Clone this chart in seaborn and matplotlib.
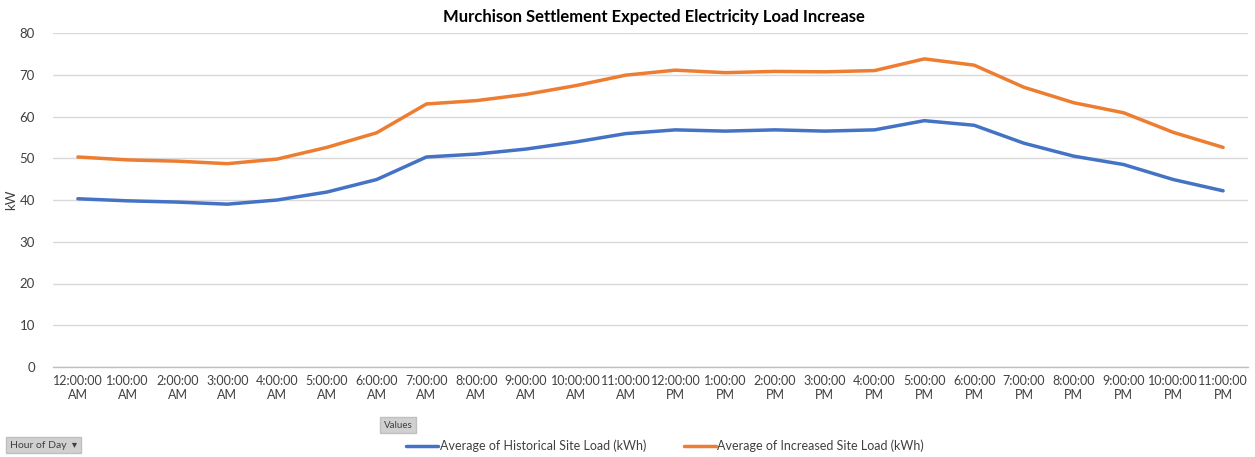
import matplotlib
matplotlib.use("Agg")
import matplotlib.pyplot as plt
import seaborn as sns
import pandas as pd
import numpy as np

hours = ["12:00:00\nAM", "1:00:00\nAM", "2:00:00\nAM", "3:00:00\nAM", "4:00:00\nAM",
         "5:00:00\nAM", "6:00:00\nAM", "7:00:00\nAM", "8:00:00\nAM", "9:00:00\nAM",
         "10:00:00\nAM", "11:00:00\nAM", "12:00:00\nPM", "1:00:00\nPM", "2:00:00\nPM",
         "3:00:00\nPM", "4:00:00\nPM", "5:00:00\nPM", "6:00:00\nPM", "7:00:00\nPM",
         "8:00:00\nPM", "9:00:00\nPM", "10:00:00\nPM", "11:00:00\nPM"]

historical = [40.3, 39.8, 39.5, 39.0, 40.0, 41.9, 44.9, 50.3, 51.0, 52.2, 53.9, 55.9,
              56.8, 56.5, 56.8, 56.5, 56.8, 59.0, 57.9, 53.6, 50.5, 48.5, 44.9, 42.2]
increased = [50.3, 49.6, 49.3, 48.7, 49.8, 52.6, 56.1, 63.0, 63.8, 65.3, 67.4, 69.9,
             71.1, 70.5, 70.8, 70.7, 71.0, 73.8, 72.3, 67.0, 63.3, 60.9, 56.2, 52.6]

series_names = ["Average of Historical Site Load (kWh)", "Average of Increased Site Load (kWh)"]
colors = ["#4472C4", "#ED7D31"]

df = pd.DataFrame({
    "pos": list(range(len(hours))) * 2,
    "load": historical + increased,
    "series": [series_names[0]] * len(hours) + [series_names[1]] * len(hours),
})

sns.set_theme(style="white")
plt.rcParams["font.family"] = ["Lato", "DejaVu Sans"]

fig = plt.figure(figsize=(12.55, 4.57), dpi=100)
ax = fig.add_axes([53 / 1255, 1 - 367 / 457, (1248 - 53) / 1255, (367 - 33) / 457])

sns.lineplot(data=df, x="pos", y="load", hue="series", palette=colors,
             linewidth=2.5, ax=ax, legend=False, sort=False)

ax.set_xlim(-0.5, len(hours) - 0.5)
ax.set_ylim(0, 80)
ax.set_yticks(range(0, 81, 10))
ax.set_xticks(range(len(hours)))
ax.set_xticklabels(hours, fontsize=9, color="#404040", linespacing=1.2)
ax.tick_params(axis="y", labelsize=9.5, labelcolor="#404040", length=0, pad=13)
ax.tick_params(axis="x", length=0, pad=6)
ax.yaxis.grid(True, color="#D9D9D9", linewidth=1)
ax.set_axisbelow(True)
for side in ["top", "right", "left"]:
    ax.spines[side].set_visible(False)
ax.spines["bottom"].set_color("#BFBFBF")
ax.spines["bottom"].set_linewidth(1)
ax.set_xlabel("")
ax.set_ylabel("kW", fontsize=9.5, color="#404040")
ax.yaxis.set_label_coords(-36 / 1195, 0.5)

fig.text(654 / 1255, 1 - 17 / 457, "Murchison Settlement Expected Electricity Load Increase",
         ha="center", va="center", fontsize=12, fontweight="bold", color="#000000")

# pivot-chart field buttons
fig.text(398 / 1255, 1 - 425 / 457, "Values", ha="center", va="center", fontsize=7,
         color="#404040",
         bbox=dict(boxstyle="square,pad=0.35", facecolor="#D0D0D0", edgecolor="#C0C0C0"))
fig.text(10 / 1255, 1 - 445 / 457, "Hour of Day  \u25BE", ha="left", va="center", fontsize=7.5,
         color="#404040",
         bbox=dict(boxstyle="square,pad=0.35", facecolor="#D0D0D0", edgecolor="#C0C0C0"))

handles = [plt.Line2D([], [], color=c, linewidth=2.5) for c in colors]
fig.legend(handles, series_names, loc="center", bbox_to_anchor=(665 / 1255, 1 - 446 / 457),
           ncol=2, frameon=False, fontsize=9, handlelength=2.6, handletextpad=0.1,
           columnspacing=3.0, labelcolor="#404040")

fig.savefig("out.png", dpi=100)
